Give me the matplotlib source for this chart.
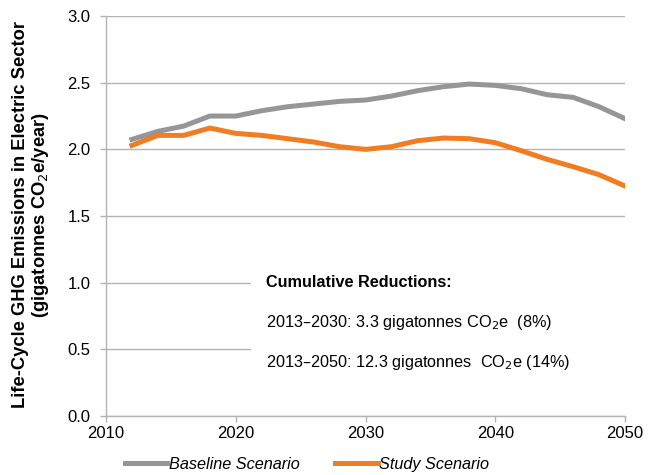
import matplotlib.pyplot as plt
from matplotlib.patches import Rectangle

plt.rcParams['font.family'] = ['Liberation Sans', 'DejaVu Sans']

years = list(range(2012, 2051, 2))
baseline = [2.075, 2.135, 2.175, 2.25, 2.25, 2.29, 2.32, 2.34, 2.36, 2.37,
            2.40, 2.44, 2.47, 2.49, 2.48, 2.455, 2.41, 2.39, 2.32, 2.23]
study = [2.03, 2.105, 2.105, 2.16, 2.12, 2.105, 2.08, 2.055, 2.02, 2.00,
         2.02, 2.065, 2.085, 2.08, 2.05, 1.99, 1.925, 1.87, 1.81, 1.725]

yticks = [0.0, 0.5, 1.0, 1.5, 2.0, 2.5, 3.0]
xticks = [2010, 2020, 2030, 2040, 2050]

grey = '#969696'
orange = '#F07D22'
gridc = '#b3b3b3'

fig = plt.figure(figsize=(6.48, 4.75), dpi=100)
ax = fig.add_axes([0.1636, 0.1242, 0.801, 0.842])

ax.plot(years, baseline, color=grey, lw=3.6, label='Baseline Scenario', zorder=3)
ax.plot(years, study, color=orange, lw=3.6, label='Study Scenario', zorder=3)

ax.set_xlim(2010, 2050)
ax.set_ylim(0, 3.0)
ax.set_xticks(xticks)
ax.set_yticks(yticks)
ax.set_yticklabels(['%.1f' % v for v in yticks])
ax.yaxis.grid(True, color=gridc, lw=1)
ax.set_axisbelow(True)
for s in ['top', 'right']:
    ax.spines[s].set_visible(False)
for s in ['left', 'bottom']:
    ax.spines[s].set_color(gridc)
    ax.spines[s].set_linewidth(1)
ax.tick_params(axis='both', colors=gridc, labelcolor='black', labelsize=12,
               length=4, width=1, direction='out')
ax.tick_params(axis='y', pad=7)

# white panel hiding the gridlines behind the note
ax.add_patch(Rectangle((2021.2, 0.15), 28.8, 1.15, facecolor='white',
                       edgecolor='none', zorder=2))
ax.text(2022.3, 1.0, 'Cumulative Reductions:', fontsize=11.7, fontweight='bold',
        va='center', zorder=4)
ax.text(2022.3, 0.70, '2013\u20132030: 3.3 gigatonnes CO$_2$e  (8%)', fontsize=11.7,
        va='center', zorder=4)
ax.text(2022.3, 0.405, '2013\u20132050: 12.3 gigatonnes  CO$_2$e (14%)', fontsize=11.7,
        va='center', zorder=4)

fig.text(0.049, 0.548,
         'Life-Cycle GHG Emissions in Electric Sector\n(gigatonnes CO$_2$e/year)',
         rotation=90, ha='center', va='center', fontsize=13.2, fontweight='bold',
         multialignment='center', linespacing=1.05)

leg = fig.legend(loc='center', bbox_to_anchor=(0.474, 0.022), ncol=2, frameon=False,
                 prop={'style': 'italic', 'size': 11.7}, handlelength=2.6,
                 handletextpad=0.1, columnspacing=2.2)

fig.savefig('out.png', dpi=100)
